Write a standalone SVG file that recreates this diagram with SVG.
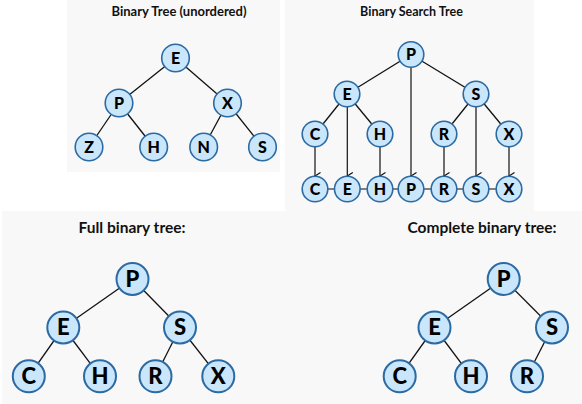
<svg xmlns="http://www.w3.org/2000/svg" width="582" height="404" viewBox="0 0 582 404">
<defs>
<style>
.panel{fill:#f8f8f8}
.title{font-family:Lato,"Liberation Sans",sans-serif;font-weight:bold;fill:#111;text-anchor:middle}
.n circle{fill:#c9e6fb;stroke:#2b6aa3;stroke-width:1.6}
.n text{font-family:Lato,"Liberation Sans",sans-serif;font-weight:900;fill:#000;text-anchor:middle;font-size:16px}
.b circle{stroke-width:2}
.b text{font-size:22px}
.e{stroke:#111;stroke-width:1.3;fill:none}
.g{stroke:#808080;stroke-width:2;fill:none}
.a{stroke:#111;stroke-width:1.2;fill:none;marker-end:url(#arr)}
</style>
<marker id="arr" markerUnits="userSpaceOnUse" markerWidth="10" markerHeight="8" viewBox="0 0 10 8" refX="5" refY="7" orient="auto-start-reverse">
<path d="M1.5,1.5 L5,7 L8.5,1.5" fill="none" stroke="#111" stroke-width="1.2"/>
</marker>
</defs>
<rect width="582" height="404" fill="#ffffff"/>
<rect class="panel" x="67" y="0" width="213" height="172"/>
<rect class="panel" x="285" y="0" width="249" height="211"/>
<rect class="panel" x="2" y="211" width="580" height="193"/>

<text class="title" x="179" y="15.5" font-size="13">Binary Tree (unordered)</text>
<text class="title" x="411.5" y="16" font-size="12.5">Binary Search Tree</text>
<text class="title" x="132" y="232.5" font-size="15.5">Full binary tree:</text>
<text class="title" x="482" y="232.5" font-size="15.5">Complete binary tree:</text>

<g id="connectors">
<line class="e" x1="175.5" y1="58" x2="119" y2="103"/>
<line class="e" x1="175.5" y1="58" x2="227.5" y2="103"/>
<line class="e" x1="119" y1="103" x2="89" y2="147"/>
<line class="e" x1="119" y1="103" x2="153.7" y2="147"/>
<line class="e" x1="227.5" y1="103" x2="203.7" y2="147"/>
<line class="e" x1="227.5" y1="103" x2="262.5" y2="147"/>
<line class="e" x1="411" y1="54.5" x2="347" y2="94"/>
<line class="e" x1="411" y1="54.5" x2="476" y2="94"/>
<line class="e" x1="347" y1="94" x2="315" y2="134"/>
<line class="e" x1="347" y1="94" x2="380" y2="134"/>
<line class="e" x1="476" y1="94" x2="444" y2="134"/>
<line class="e" x1="476" y1="94" x2="509" y2="134"/>
<line class="g" x1="315" y1="189" x2="509" y2="189"/>
<line class="a" x1="315" y1="147" x2="315" y2="176"/>
<line class="a" x1="347.3" y1="107" x2="347.3" y2="176"/>
<line class="a" x1="380" y1="147" x2="380" y2="176"/>
<line class="a" x1="411" y1="67.5" x2="411" y2="176"/>
<line class="a" x1="444" y1="147" x2="444" y2="176"/>
<line class="a" x1="476" y1="107" x2="476" y2="176"/>
<line class="a" x1="509" y1="147" x2="509" y2="176"/>
<line class="e" x1="132.5" y1="279" x2="63.3" y2="327.5"/>
<line class="e" x1="132.5" y1="279" x2="180" y2="327.5"/>
<line class="e" x1="63.3" y1="327.5" x2="28.8" y2="376.3"/>
<line class="e" x1="63.3" y1="327.5" x2="100" y2="376.3"/>
<line class="e" x1="180" y1="327.5" x2="155.5" y2="376.3"/>
<line class="e" x1="180" y1="327.5" x2="218.3" y2="376.3"/>
<line class="e" x1="503.7" y1="279" x2="434.5" y2="327.5"/>
<line class="e" x1="503.7" y1="279" x2="552" y2="327.5"/>
<line class="e" x1="434.5" y1="327.5" x2="399.7" y2="376.3"/>
<line class="e" x1="434.5" y1="327.5" x2="471" y2="376.3"/>
<line class="e" x1="552" y1="327.5" x2="527" y2="376.3"/>
</g>

<g id="u-E" class="n"><circle cx="175.5" cy="58" r="13.8"/><text x="175.5" y="63.8">E</text></g>
<g id="u-P" class="n"><circle cx="119" cy="103" r="13.8"/><text x="119" y="108.8">P</text></g>
<g id="u-X" class="n"><circle cx="227.5" cy="103" r="13.8"/><text x="227.5" y="108.8">X</text></g>
<g id="u-Z" class="n"><circle cx="89" cy="147" r="13.8"/><text x="89" y="152.8">Z</text></g>
<g id="u-H" class="n"><circle cx="153.7" cy="147" r="13.8"/><text x="153.7" y="152.8">H</text></g>
<g id="u-N" class="n"><circle cx="203.7" cy="147" r="13.8"/><text x="203.7" y="152.8">N</text></g>
<g id="u-S" class="n"><circle cx="262.5" cy="147" r="13.8"/><text x="262.5" y="152.8">S</text></g>

<g id="bst-P" class="n"><circle cx="411" cy="54.5" r="12.8"/><text x="411" y="60.3">P</text></g>
<g id="bst-E" class="n"><circle cx="347" cy="94" r="12.8"/><text x="347" y="99.8">E</text></g>
<g id="bst-S" class="n"><circle cx="476" cy="94" r="12.8"/><text x="476" y="99.8">S</text></g>
<g id="bst-C" class="n"><circle cx="315" cy="134" r="12.8"/><text x="315" y="139.8">C</text></g>
<g id="bst-H" class="n"><circle cx="380" cy="134" r="12.8"/><text x="380" y="139.8">H</text></g>
<g id="bst-R" class="n"><circle cx="444" cy="134" r="12.8"/><text x="444" y="139.8">R</text></g>
<g id="bst-X" class="n"><circle cx="509" cy="134" r="12.8"/><text x="509" y="139.8">X</text></g>
<g id="seq-C" class="n"><circle cx="315" cy="189" r="12.8"/><text x="315" y="194.8">C</text></g>
<g id="seq-E" class="n"><circle cx="347.3" cy="189" r="12.8"/><text x="347.3" y="194.8">E</text></g>
<g id="seq-H" class="n"><circle cx="380" cy="189" r="12.8"/><text x="380" y="194.8">H</text></g>
<g id="seq-P" class="n"><circle cx="411" cy="189" r="12.8"/><text x="411" y="194.8">P</text></g>
<g id="seq-R" class="n"><circle cx="444" cy="189" r="12.8"/><text x="444" y="194.8">R</text></g>
<g id="seq-S" class="n"><circle cx="476" cy="189" r="12.8"/><text x="476" y="194.8">S</text></g>
<g id="seq-X" class="n"><circle cx="509" cy="189" r="12.8"/><text x="509" y="194.8">X</text></g>

<g id="f-P" class="n b"><circle cx="132.5" cy="279" r="16"/><text x="132.5" y="286.9">P</text></g>
<g id="f-E" class="n b"><circle cx="63.3" cy="327.5" r="16"/><text x="63.3" y="335.4">E</text></g>
<g id="f-S" class="n b"><circle cx="180" cy="327.5" r="16"/><text x="180" y="335.4">S</text></g>
<g id="f-C" class="n b"><circle cx="28.8" cy="376.3" r="16"/><text x="28.8" y="384.2">C</text></g>
<g id="f-H" class="n b"><circle cx="100" cy="376.3" r="16"/><text x="100" y="384.2">H</text></g>
<g id="f-R" class="n b"><circle cx="155.5" cy="376.3" r="16"/><text x="155.5" y="384.2">R</text></g>
<g id="f-X" class="n b"><circle cx="218.3" cy="376.3" r="16"/><text x="218.3" y="384.2">X</text></g>

<g id="c-P" class="n b"><circle cx="503.7" cy="279" r="16"/><text x="503.7" y="286.9">P</text></g>
<g id="c-E" class="n b"><circle cx="434.5" cy="327.5" r="16"/><text x="434.5" y="335.4">E</text></g>
<g id="c-S" class="n b"><circle cx="552" cy="327.5" r="16"/><text x="552" y="335.4">S</text></g>
<g id="c-C" class="n b"><circle cx="399.7" cy="376.3" r="16"/><text x="399.7" y="384.2">C</text></g>
<g id="c-H" class="n b"><circle cx="471" cy="376.3" r="16"/><text x="471" y="384.2">H</text></g>
<g id="c-R" class="n b"><circle cx="527" cy="376.3" r="16"/><text x="527" y="384.2">R</text></g>
</svg>
